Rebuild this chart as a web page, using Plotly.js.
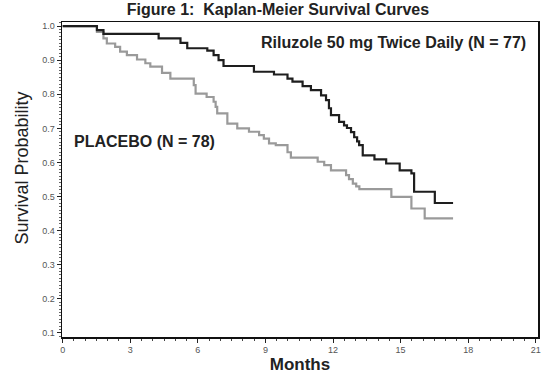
<!DOCTYPE html>
<html>
<head>
<meta charset="utf-8">
<script src="https://cdn.plot.ly/plotly-3.0.1.min.js"></script>
<style>html,body{margin:0;padding:0;background:#fff;}#chart{width:556px;height:385px;}</style>
</head>
<body>
<div id="chart"></div>
<script>
// Riluzole 50 mg Twice Daily (N = 77)
const riluzoleMonths = [0, 1.52, 1.81, 4.26, 5.23, 5.53, 6.42, 6.70, 6.92, 7.14, 8.49, 9.38, 9.98, 10.20, 10.65, 11.02, 11.47, 11.69, 11.82, 11.91, 12.27, 12.49, 12.62, 12.80, 12.94, 13.07, 13.16, 13.32, 13.84, 14.36, 14.96, 15.48, 15.60, 16.52, 17.33];
const riluzoleSurv   = [1.0, 0.988, 0.977, 0.964, 0.951, 0.935, 0.928, 0.915, 0.900, 0.883, 0.866, 0.858, 0.846, 0.837, 0.824, 0.812, 0.797, 0.783, 0.759, 0.739, 0.719, 0.709, 0.701, 0.689, 0.674, 0.662, 0.651, 0.621, 0.609, 0.597, 0.577, 0.568, 0.514, 0.481, 0.481];
// Placebo (N = 78)
const placeboMonths = [0, 1.52, 1.81, 1.96, 2.33, 2.55, 2.85, 3.30, 3.67, 3.89, 4.41, 4.78, 5.82, 5.90, 6.39, 6.70, 6.79, 6.86, 7.31, 7.75, 8.27, 8.72, 8.93, 9.16, 9.46, 9.98, 10.13, 11.32, 11.61, 11.91, 12.58, 12.71, 12.88, 13.03, 13.17, 14.59, 15.48, 16.07, 17.33];
const placeboSurv   = [1.0, 0.983, 0.964, 0.949, 0.939, 0.925, 0.915, 0.902, 0.891, 0.881, 0.863, 0.846, 0.827, 0.802, 0.792, 0.778, 0.763, 0.744, 0.714, 0.700, 0.690, 0.680, 0.670, 0.656, 0.651, 0.630, 0.614, 0.602, 0.592, 0.577, 0.563, 0.551, 0.538, 0.530, 0.522, 0.499, 0.465, 0.436, 0.436];

const xTicks = [0, 3, 6, 9, 12, 15, 18, 21];
const yTicks = [0.1, 0.2, 0.3, 0.4, 0.5, 0.6, 0.7, 0.8, 0.9, 1.0];
const yTickText = ["0.1", "0.2", "0.3", "0.4", "0.5", "0.6", "0.7", "0.8", "0.9", "1.0"];

const data = [
  {x: placeboMonths, y: placeboSurv, type: 'scatter', mode: 'lines', line: {shape: 'hv', color: '#9a9a9a', width: 2.2}, name: 'PLACEBO'},
  {x: riluzoleMonths, y: riluzoleSurv, type: 'scatter', mode: 'lines', line: {shape: 'hv', color: '#1e1e1e', width: 2.2}, name: 'Riluzole'}
];

const F = '"Liberation Sans", Arial, Helvetica, sans-serif';
const layout = {
  width: 556, height: 385,
  margin: {l: 62, r: 18, t: 22, b: 48},
  paper_bgcolor: '#fff', plot_bgcolor: '#fff',
  showlegend: false,
  font: {family: F, color: '#222'},
  title: {text: '<b>Figure 1:  Kaplan-Meier Survival Curves</b>', font: {family: F, size: 16, color: '#222'}, x: 0.5, xref: 'container', xanchor: 'center', y: 0.99, yref: 'container', yanchor: 'top'},
  xaxis: {
    range: [-0.03, 21.1], tickvals: xTicks, ticktext: xTicks.map(String),
    ticks: 'outside', ticklen: 4, tickwidth: 1, tickcolor: '#222',
    tickfont: {size: 9, color: '#555'},
    minor: {dtick: 0.5, tick0: 0, ticks: 'outside', ticklen: 2, tickcolor: '#444', showgrid: false},
    showline: true, linecolor: '#111', linewidth: 1.5, mirror: true,
    showgrid: false, zeroline: false,
    title: {text: '<b>Months</b>', font: {size: 17, color: '#222'}, standoff: 2}
  },
  yaxis: {
    range: [0.088, 1.012], tickvals: yTicks, ticktext: yTickText,
    ticks: 'outside', ticklen: 4, tickwidth: 1, tickcolor: '#222',
    tickfont: {size: 9, color: '#555'},
    minor: {dtick: 0.01, tick0: 0, ticks: 'outside', ticklen: 2, tickcolor: '#666', showgrid: false},
    showline: true, linecolor: '#111', linewidth: 1.5, mirror: true,
    showgrid: false, zeroline: false
  },
  annotations: [
    {text: 'Survival Probability', xref: 'paper', yref: 'paper', x: -0.084, y: 0.535, xanchor: 'center', yanchor: 'middle', textangle: -90, showarrow: false, font: {family: F, size: 18, color: '#222'}},
    {text: '<b>Riluzole 50 mg Twice Daily (N = 77)</b>', xref: 'paper', yref: 'paper', x: 0.98, y: 0.935, xanchor: 'right', yanchor: 'middle', showarrow: false, font: {family: F, size: 16, color: '#222'}},
    {text: '<b>PLACEBO (N = 78)</b>', xref: 'paper', yref: 'paper', x: 0.022, y: 0.62, xanchor: 'left', yanchor: 'middle', showarrow: false, font: {family: F, size: 16, color: '#222'}}
  ]
};

Plotly.newPlot('chart', data, layout, {displayModeBar: false, staticPlot: true});
</script>
</body>
</html>
